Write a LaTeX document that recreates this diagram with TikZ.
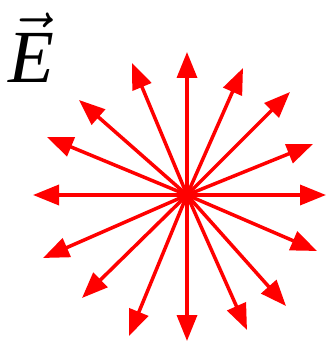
\documentclass[tikz,border=0pt]{standalone}
\usepackage{fontspec}
\setmainfont{Liberation Serif}
\usepackage{graphicx}
\usepackage{tikz}
\usetikzlibrary{arrows.meta}

\begin{document}
\begin{tikzpicture}[x=1pt, y=-1pt,
    vec/.style={red, line width=3.5pt, -{Triangle[length=26pt, width=20pt]}},
    field/.style={inner sep=0pt}]
  \useasboundingbox (0,0) rectangle (328,344);
  \node[field, anchor=base west] (E) at (8,83) {\scalebox{7.5}{$\vec{\textit{E}}$}};
  \coordinate (c) at (187,195);
  % tips, counter-clockwise from the right
  \foreach \x/\y [count=\i] in {326/195, 313/144, 290/92, 243/68, 187/52, 132/63, 79/100, 47/137,
      33/195, 43/258, 82/298, 129/336, 187/341, 247/330, 286/306, 317/251} {
    \coordinate (t\i) at (\x,\y);
    \draw[vec] (c) -- (t\i);
  }
\end{tikzpicture}
\end{document}
